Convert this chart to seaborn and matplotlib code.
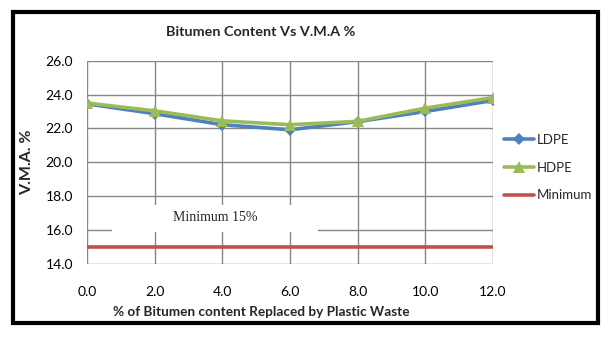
import matplotlib
matplotlib.use("Agg")
import matplotlib.pyplot as plt
import seaborn as sns
import pandas as pd
from matplotlib.patches import Rectangle

x_vals = [0.0, 2.0, 4.0, 6.0, 8.0, 10.0, 12.0]
ldpe = [23.45, 22.87, 22.22, 21.92, 22.40, 23.00, 23.65]
hdpe = [23.50, 23.04, 22.45, 22.22, 22.42, 23.20, 23.82]
minimum = [15.0] * 7
x_ticks = [0.0, 2.0, 4.0, 6.0, 8.0, 10.0, 12.0]
y_ticks = [14.0, 16.0, 18.0, 20.0, 22.0, 24.0, 26.0]

sns.set_style("white")
plt.rcParams["font.family"] = ["Lato", "DejaVu Sans"]

fig = plt.figure(figsize=(6.1, 3.37), dpi=100)
ax = fig.add_axes([0.1426, 0.2166, 0.6656, 0.6034])

sns.lineplot(x=x_vals, y=ldpe, color="#4F81BD", marker="D", linewidth=2.6,
             markersize=6.5, markeredgewidth=0, label="LDPE", ax=ax, zorder=3)
sns.lineplot(x=x_vals, y=hdpe, color="#9BBB59", marker="^", linewidth=2.6,
             markersize=8, markeredgewidth=0, label="HDPE", ax=ax, zorder=3)
sns.lineplot(x=x_vals, y=minimum, color="#C0504D", linewidth=2.6,
             label="Minimum", ax=ax, zorder=3)

ax.set_xlim(0, 12)
ax.set_ylim(14, 26)
ax.set_xticks(x_ticks)
ax.set_yticks(y_ticks)
ax.set_xticklabels([f"{v:.1f}" for v in x_ticks], fontsize=10)
ax.set_yticklabels([f"{v:.1f}" for v in y_ticks], fontsize=10)
ax.grid(True, color="#868686", linewidth=1)
ax.set_axisbelow(True)
for s in ax.spines.values():
    s.set_visible(False)
ax.tick_params(axis="both", which="both", direction="out", length=5,
               color="#868686", width=1, pad=5, labelcolor="black")
ax.tick_params(axis="x", pad=11)
ax.set_xlabel("% of Bitumen content Replaced by Plastic Waste",
              fontsize=9.8, fontweight="bold", labelpad=2)
ax.xaxis.set_label_coords(0.4286, -0.205)
ax.set_ylabel("V.M.A. %", fontsize=11.5, fontweight="bold", labelpad=8)
fig.text(0.428, 0.905, "Bitumen Content Vs V.M.A %", fontsize=10.4,
         fontweight="bold", ha="center", va="center")

# white box with annotation
ax.add_patch(Rectangle((0.74, 15.86), 6.09, 1.65, facecolor="white",
                       edgecolor="none", zorder=2))
ax.text(3.78, 16.75, "Minimum 15%", fontsize=10, family=["Liberation Serif"],
        ha="center", va="center", zorder=4)

leg = ax.legend(loc="center left", bbox_to_anchor=(1.027, 0.474), frameon=False,
                fontsize=9.5, handlelength=2.3, labelspacing=1.2, handletextpad=0.15,
                borderaxespad=0, borderpad=0)

fig.patches.append(Rectangle((0.022, 0.043), 0.958, 0.92, transform=fig.transFigure,
                             fill=False, edgecolor="black", linewidth=3))

fig.savefig("out.png", dpi=100, facecolor="white")
